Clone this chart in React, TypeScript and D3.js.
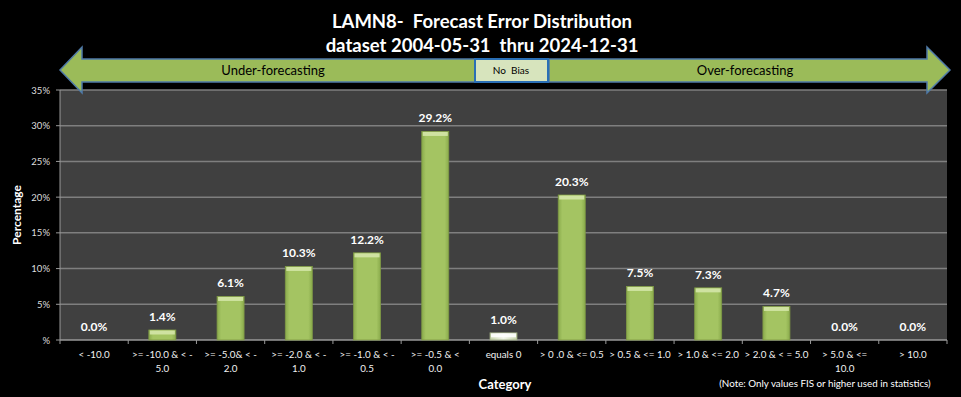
import React from 'react';
import * as d3 from 'd3';

// 分类、数值、刻度
const categories: string[][] = [
  ['< -10.0'],
  ['>= -10.0 & < -', '5.0'],
  ['>= -5.0& < -', '2.0'],
  ['>= -2.0 & < -', '1.0'],
  ['>= -1.0 & < -', '0.5'],
  ['>= -0.5 & <', '0.0'],
  ['equals 0'],
  ['> 0 .0 & <= 0.5'],
  ['> 0.5 & <= 1.0'],
  ['> 1.0 & <= 2.0'],
  ['> 2.0 & < = 5.0'],
  ['> 5.0 & <=', '10.0'],
  ['> 10.0'],
];
const percentages = [0.0, 1.4, 6.1, 10.3, 12.2, 29.2, 1.0, 20.3, 7.5, 7.3, 4.7, 0.0, 0.0];
const yTicks = [0, 5, 10, 15, 20, 25, 30, 35];
const titleLines = ['LAMN8-  Forecast Error Distribution', 'dataset 2004-05-31  thru 2024-12-31'];

const W = 961;
const H = 397;
const margin = { top: 90, right: 14, bottom: 57, left: 60 };
const FONT = 'Lato, "Open Sans", sans-serif';

const App: React.FC = () => {
  const x = d3.scaleBand<number>()
    .domain(d3.range(categories.length))
    .range([margin.left, W - margin.right]);
  const y = d3.scaleLinear()
    .domain([0, 35])
    .range([H - margin.bottom, margin.top]);

  const barW = 27;
  const y0 = y(0);
  const left = margin.left;
  const right = W - margin.right;

  // 箭头
  const arrowTop = 47, arrowBot = 93, bodyTop = 59, bodyBot = 82;
  const midY = (arrowTop + arrowBot) / 2;
  const leftArrow = `M60,${midY} L82,${arrowTop} L82,${bodyTop} L475,${bodyTop} L475,${bodyBot} L82,${bodyBot} L82,${arrowBot} Z`;
  const rightArrow = `M950,${midY} L927,${arrowTop} L927,${bodyTop} L549,${bodyTop} L549,${bodyBot} L927,${bodyBot} L927,${arrowBot} Z`;

  return (
    <svg width={W} height={H} style={{ position: 'absolute', left: 0, top: 0, background: '#000' }}>
      <defs>
        <linearGradient id="barGrad" x1="0" x2="1" y1="0" y2="0">
          <stop offset="0%" stopColor="#8aab4c" />
          <stop offset="15%" stopColor="#a4c462" />
          <stop offset="85%" stopColor="#a4c462" />
          <stop offset="100%" stopColor="#8aab4c" />
        </linearGradient>
        <linearGradient id="zeroGrad" x1="0" x2="1" y1="0" y2="0">
          <stop offset="0%" stopColor="#c5d3a8" />
          <stop offset="50%" stopColor="#f2f6ea" />
          <stop offset="100%" stopColor="#c5d3a8" />
        </linearGradient>
      </defs>
      <rect x={0} y={0} width={W} height={H} fill="#000" />

      {/* 标题 */}
      {titleLines.map((t, i) => (
        <text key={i} x={482} y={28 + i * 24} textAnchor="middle" fill="#fff" style={{ whiteSpace: 'pre' }}
          fontFamily={FONT} fontWeight="bold" fontSize={18.5}>{t}</text>
      ))}

      {/* 绘图区 */}
      <rect x={left} y={margin.top} width={right - left} height={y0 - margin.top} fill="#404040" />
      {yTicks.map(t => (
        <g key={t}>
          <line x1={left} x2={right} y1={y(t)} y2={y(t)} stroke={t === 0 ? '#999' : '#7f7f7f'} strokeWidth={1.5} />
          <line x1={left - 4} x2={left} y1={y(t)} y2={y(t)} stroke="#999" />
          <text x={50} y={y(t) + 3.5} textAnchor="end" fill="#ddd" fontFamily={FONT} fontSize={9.5}>
            {t === 0 ? '%' : `${t}%`}
          </text>
        </g>
      ))}
      <line x1={left} x2={left} y1={margin.top} y2={y0} stroke="#999" />
      {d3.range(categories.length + 1).map(i => {
        const xx = i < categories.length ? x(i)! : right;
        return <line key={i} x1={xx} x2={xx} y1={y0} y2={y0 + 4} stroke="#999" />;
      })}

      {/* 柱子 */}
      {percentages.map((v, i) => {
        const cx = x(i)! + x.bandwidth() / 2;
        const top = y(v);
        const h = y0 - top;
        const isZero = i === 6;
        return (
          <g key={i}>
            {h > 0 && (
              <>
                <rect x={cx - barW / 2} y={top} width={barW} height={h}
                  fill={isZero ? 'url(#zeroGrad)' : 'url(#barGrad)'}
                  stroke={isZero ? '#9aa67f' : '#7f9a45'} strokeWidth={0.8} />
                <rect x={cx - barW / 2 + 1} y={top + 0.5} width={barW - 2} height={Math.min(4, h - 1)}
                  fill={isZero ? '#ffffff' : '#d4e6a8'} opacity={0.9} />
              </>
            )}
            <text x={cx} y={top - 9} textAnchor="middle" fill="#fff"
              fontFamily={FONT} fontWeight="bold" fontSize={12}>{v.toFixed(1)}%</text>
            {categories[i].map((line, j) => (
              <text key={j} x={cx} y={358 + j * 14} textAnchor="middle" fill="#f2f2f2"
                fontFamily={FONT} fontSize={9.8}>{line}</text>
            ))}
          </g>
        );
      })}

      {/* 坐标轴标题 */}
      <text transform={`translate(21,${(margin.top + y0) / 2}) rotate(-90)`} textAnchor="middle"
        fill="#fff" fontFamily={FONT} fontWeight="bold" fontSize={12}>Percentage</text>
      <text x={505} y={389} textAnchor="middle" fill="#fff" fontFamily={FONT} fontWeight="bold" fontSize={13}>Category</text>
      <text x={825} y={387} textAnchor="middle" fill="#fff" fontFamily={FONT} fontSize={9.8}>
        (Note: Only values FIS or higher used in statistics)
      </text>

      {/* 偏差箭头 */}
      <path d={leftArrow} fill="#9bbb59" stroke="#4f7aa8" strokeWidth={1.5} />
      <path d={rightArrow} fill="#9bbb59" stroke="#4f7aa8" strokeWidth={1.5} />
      <rect x={475} y={bodyTop} width={73} height={bodyBot - bodyTop} fill="#d7e4bd" stroke="#2a6fb5" strokeWidth={2} />
      <text x={273} y={75} textAnchor="middle" fill="#000" fontFamily={FONT} fontSize={13}>Under-forecasting</text>
      <text x={511} y={74} textAnchor="middle" fill="#000" fontFamily={FONT} fontSize={10} style={{ whiteSpace: 'pre' }}>No  Bias</text>
      <text x={745} y={75} textAnchor="middle" fill="#000" fontFamily={FONT} fontSize={13}>Over-forecasting</text>
    </svg>
  );
};

export default App;
